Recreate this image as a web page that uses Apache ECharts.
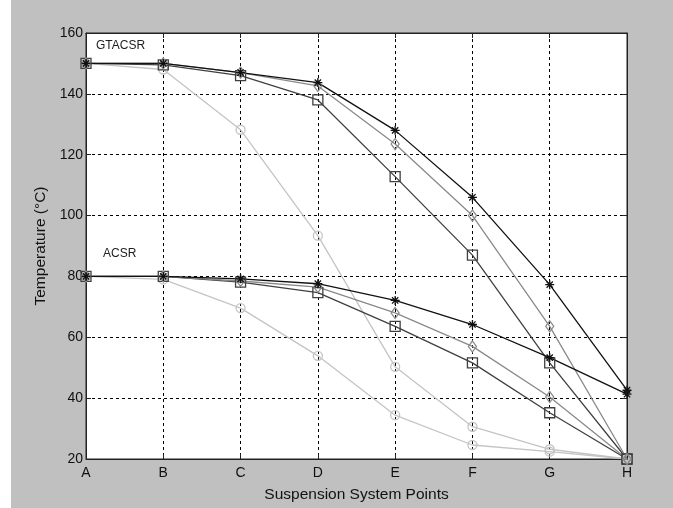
<!DOCTYPE html>
<html>
<head>
<meta charset="utf-8">
<script src="https://cdn.jsdelivr.net/npm/echarts@6/dist/echarts.min.js"></script>
<style>
  body { margin: 0; background: #fff; }
  #chart { position: absolute; left: 11px; top: 0; width: 662px; height: 508px; }
</style>
</head>
<body>
<div id="chart"></div>
<script>
// Các điểm trên hệ thống treo
const points = ['A', 'B', 'C', 'D', 'E', 'F', 'G', 'H'];

// GTACSR
const gtStar    = [150, 150, 147, 143.7, 128, 106, 77.3, 42.6];
const gtDiamond = [150, 150, 147, 142.6, 123.5, 100, 63.6, 20];
const gtSquare  = [150, 149.5, 146, 138, 112.8, 87, 51.6, 20];
const gtCircle  = [150, 148, 128.2, 93.4, 50.3, 30.6, 23.2, 20];

// ACSR
const acStar    = [80, 80, 79.2, 77.6, 72.1, 64.2, 53.3, 41.3];
const acDiamond = [80, 80, 78.5, 76.5, 68, 57, 40.4, 20];
const acSquare  = [80, 80, 78.1, 74.7, 63.6, 51.6, 35.2, 20];
const acCircle  = [80, 79, 69.6, 53.9, 34.4, 24.6, 22.4, 20];

const yTicks = [20, 40, 60, 80, 100, 120, 140, 160];

const starPath = 'path://M0,5L10,5M5,0L5,10M1.5,1.5L8.5,8.5M8.5,1.5L1.5,8.5';

function makeSeries(name, data, symbol, color, size) {
    return {
        name: name,
        type: 'line',
        data: data,
        symbol: symbol,
        symbolSize: size,
        showAllSymbol: true,
        lineStyle: { color: color, width: 1.3 },
        itemStyle: { color: 'rgba(255,255,255,0)', borderColor: color, borderWidth: 1.3 },
        emphasis: { disabled: true },
        z: 3
    };
}

const font = 'Liberation Sans, Arial, sans-serif';
const dash = { type: [3, 3], color: '#000', width: 1 };

var chart = echarts.init(document.getElementById('chart'));
var option = {
    backgroundColor: '#c0c0c0',
    animation: false,
    grid: {
        left: 75, right: 46, top: 33, bottom: 49,
        show: true, backgroundColor: '#fff', borderColor: '#222', borderWidth: 1
    },
    xAxis: [{
        type: 'category',
        data: points,
        boundaryGap: false,
        axisLine: { lineStyle: { color: '#222' } },
        axisTick: { inside: true, length: 5, lineStyle: { color: '#222' } },
        axisLabel: { color: '#111', fontSize: 14, fontFamily: font, margin: 7 },
        splitLine: { show: true, lineStyle: dash },
        name: 'Suspension System Points',
        nameLocation: 'middle',
        nameGap: 28,
        nameTextStyle: { color: '#111', fontSize: 15.5, fontFamily: font }
    }, {
        type: 'category',
        data: points,
        boundaryGap: false,
        position: 'top',
        axisLine: { lineStyle: { color: '#222' } },
        axisTick: { inside: true, length: 5, lineStyle: { color: '#222' } },
        axisLabel: { show: false }
    }],
    yAxis: [{
        type: 'value',
        min: 20, max: 160, interval: 20,
        axisLine: { show: true, lineStyle: { color: '#222' } },
        axisTick: { show: true, inside: true, length: 5, lineStyle: { color: '#222' } },
        axisLabel: {
            color: '#111', fontSize: 14, fontFamily: font, margin: 3,
            formatter: v => yTicks.includes(v) ? String(v) : ''
        },
        splitLine: { show: true, lineStyle: dash },
        name: 'Temperature (°C)',
        nameLocation: 'middle',
        nameGap: 32,
        nameTextStyle: { color: '#111', fontSize: 15.5, fontFamily: font }
    }, {
        type: 'value',
        min: 20, max: 160, interval: 20,
        position: 'right',
        axisLine: { show: true, lineStyle: { color: '#222' } },
        axisTick: { show: true, inside: true, length: 5, lineStyle: { color: '#222' } },
        axisLabel: { show: false },
        splitLine: { show: false }
    }],
    graphic: [
        { type: 'text', left: 85, top: 40, style: { text: 'GTACSR', fill: '#222', font: '12px ' + font } },
        { type: 'text', left: 92, top: 248, style: { text: 'ACSR', fill: '#222', font: '12px ' + font } }
    ],
    series: [
        makeSeries('GT circle', gtCircle, 'circle', '#c4c4c4', 9),
        makeSeries('GT square', gtSquare, 'rect', '#404040', 10),
        makeSeries('GT diamond', gtDiamond, 'diamond', '#8a8a8a', [8, 11]),
        makeSeries('GT star', gtStar, starPath, '#111', 9),
        makeSeries('AC circle', acCircle, 'circle', '#c4c4c4', 9),
        makeSeries('AC square', acSquare, 'rect', '#404040', 10),
        makeSeries('AC diamond', acDiamond, 'diamond', '#8a8a8a', [8, 11]),
        makeSeries('AC star', acStar, starPath, '#111', 9)
    ]
};
chart.setOption(option);
</script>
</body>
</html>
